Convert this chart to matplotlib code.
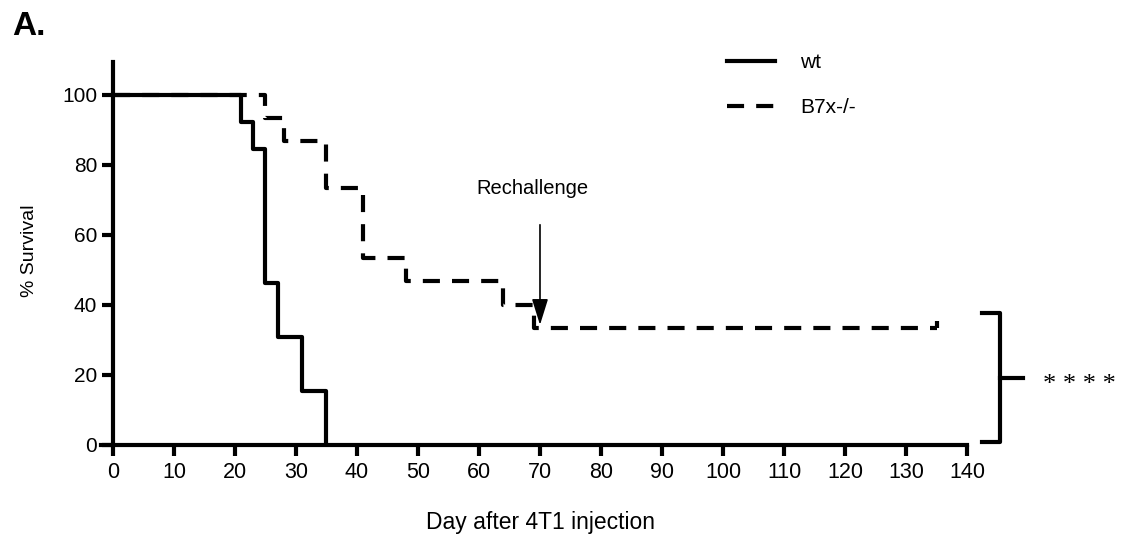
import matplotlib
matplotlib.use("Agg")
import matplotlib.pyplot as plt
from matplotlib import font_manager

# survival data (days, % survival)
WT_DAYS = [0, 21, 23, 25, 27, 31, 35]
WT_SURV = [100, 92.3, 84.6, 46.2, 30.8, 15.4, 0]
KO_DAYS = [0, 25, 28, 35, 41, 48, 64, 69, 135]
KO_SURV = [100, 93.3, 86.7, 73.3, 53.3, 46.7, 40, 33.3, 33.3]
SERIES_LABELS = ["wt", "B7x-/-"]

X_TICKS = list(range(0, 141, 10))
Y_TICKS = list(range(0, 101, 20))

RECHALLENGE_DAY = 70
SIGNIF = "* * * *"

names = {f.name for f in font_manager.fontManager.ttflist}
NARROW = "Liberation Sans Narrow" if "Liberation Sans Narrow" in names else "Liberation Sans"
plt.rcParams["font.family"] = ["Liberation Sans", "DejaVu Sans"]

fig = plt.figure(figsize=(11.26, 5.38), dpi=100)
ax = fig.add_axes([0.0895, 0.1729, 0.8588 - 0.0895, 0.8848 - 0.1729])

lw = 3
ax.step(KO_DAYS, KO_SURV, where="post", color="black", lw=lw,
        dashes=(4.1, 2.9), label=SERIES_LABELS[1], zorder=2)
ax.step(WT_DAYS, WT_SURV, where="post", color="black", lw=lw,
        label=SERIES_LABELS[0], zorder=3)
# censor mark at end of follow-up
ax.plot([KO_DAYS[-1], KO_DAYS[-1]], [KO_SURV[-1], KO_SURV[-1] + 2], color="black", lw=lw,
        solid_capstyle="butt")

ax.set_xlim(-2, 140)
ax.set_ylim(0, 109.4)
ax.spines["left"].set_position(("data", 0))
for s in ["top", "right"]:
    ax.spines[s].set_visible(False)
for s in ["left", "bottom"]:
    ax.spines[s].set_linewidth(3)

ax.set_xticks(X_TICKS)
ax.set_yticks(Y_TICKS)
ax.tick_params(axis="both", length=8, width=3, color="black")
ax.tick_params(axis="x", pad=4)
ax.tick_params(axis="y", pad=3.5)
xsize = 18 if NARROW != "Liberation Sans" else 15.5
for t in ax.get_xticklabels():
    t.set_family(NARROW)
    t.set_fontsize(xsize)
for t in ax.get_yticklabels():
    t.set_fontsize(15)

ax.set_ylabel("% Survival", fontsize=14)
ax.yaxis.set_label_coords(30 / 1126, (538 - 251) / 538, transform=fig.transFigure)
ax.yaxis.label.set_va("center")
ax.set_xlabel("Day after 4T1 injection", fontsize=16.5, family=NARROW)
ax.xaxis.set_label_coords(540 / 1126, (538 - 522) / 538, transform=fig.transFigure)
ax.xaxis.label.set_va("center")

# rechallenge arrow
ax.annotate("", xy=(RECHALLENGE_DAY, 34.3), xytext=(RECHALLENGE_DAY, 62.9),
            arrowprops=dict(arrowstyle="-|>,head_width=0.5,head_length=1.6",
                            color="black", lw=1.2, shrinkA=0, shrinkB=0))
ax.text(68.8, 73.4, "Rechallenge", fontsize=14.5, ha="center", va="center")

# significance bracket
bx = [142.5, 145.4, 145.4, 142.5]
by = [37.7, 37.7, 0.9, 0.9]
ax.plot(bx, by, color="black", lw=3, clip_on=False, solid_joinstyle="round")
ax.plot([145.4, 149.2], [19.1, 19.1], color="black", lw=3, clip_on=False)
ax.text(152.5, 17.2, SIGNIF, fontsize=19, family="Liberation Serif",
        ha="left", va="center", clip_on=False)

leg = ax.legend(handles=ax.get_lines()[1::-1], frameon=False, fontsize=15,
                handlelength=2.3, handletextpad=1.2, labelspacing=1.25,
                loc="upper left", bbox_to_anchor=(727 / 1126, (538 - 53) / 538),
                bbox_transform=fig.transFigure, borderaxespad=0, borderpad=0)

fig.text(12 / 1126, (538 - 35) / 538, "A.", fontsize=24, fontweight="bold",
         ha="left", va="baseline")

fig.savefig("out.png", dpi=100)
